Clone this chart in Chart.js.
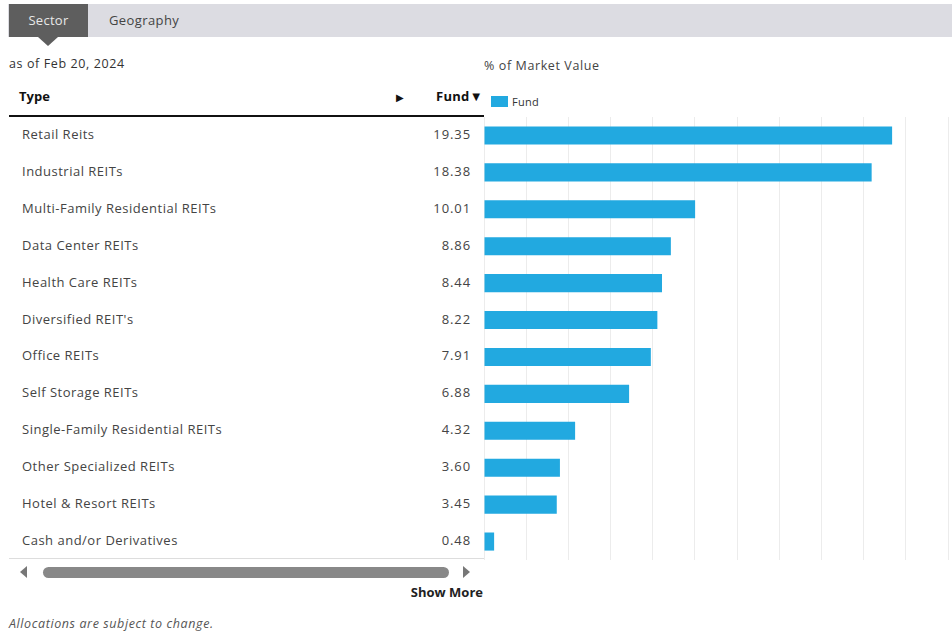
<!DOCTYPE html>
<html>
<head>
<meta charset="utf-8">
<script src="https://cdn.jsdelivr.net/npm/chart.js@4"></script>
<style>
  html,body{margin:0;padding:0;background:#fff;}
  body{width:952px;height:633px;position:relative;overflow:hidden;font-family:"Open Sans","Noto Sans",sans-serif;color:#333;}
  .tabbar{position:absolute;left:8px;top:4px;width:944px;height:33px;background:#dcdce2;}
  .tab-active{position:absolute;left:9px;top:4px;width:79px;height:33px;background:#5e5e5e;color:#e8e8e8;font-size:13px;line-height:33px;text-align:center;letter-spacing:0.3px;}
  .pointer{position:absolute;left:38px;top:37px;width:0;height:0;border-left:10px solid transparent;border-right:10px solid transparent;border-top:9px solid #5e5e5e;}
  .tab2{position:absolute;left:109px;top:4px;font-size:13px;line-height:33px;color:#444;letter-spacing:0.4px;}
  .asof{position:absolute;left:9px;top:55px;font-size:12.5px;color:#333;letter-spacing:0.6px;}
  .pmv{position:absolute;left:484px;top:57px;font-size:12.5px;color:#444;letter-spacing:0.6px;}
  .hdr-type{position:absolute;left:19px;top:87px;font-size:13px;font-weight:bold;color:#111;}
  .hdr-arrow{position:absolute;left:396px;top:90px;font-size:10px;color:#111;}
  .hdr-fund{position:absolute;left:436px;top:87px;font-size:13px;font-weight:bold;color:#111;letter-spacing:0.3px;}
  .hdr-line{position:absolute;left:9px;top:115px;width:475px;height:2px;background:#111;}
  .tbl-right{position:absolute;left:484px;top:117px;width:1px;height:443px;background:#ddd;}
  .tbl-bottom{position:absolute;left:9px;top:558px;width:475px;height:1px;background:#ddd;}
  .row{position:absolute;left:0;width:484px;height:37px;font-size:13px;color:#444;letter-spacing:0.5px;}
  .row .lbl{position:absolute;left:22px;top:8px;}
  .row .val{position:absolute;right:13px;top:8px;letter-spacing:0.9px;}
  .legend{position:absolute;left:491px;top:94px;font-size:11px;color:#333;letter-spacing:0.3px;}
  .legend .box{display:inline-block;width:17px;height:11px;background:#22a9e0;vertical-align:-1px;margin-right:4px;}
  .sb-left{position:absolute;left:20px;top:566px;width:0;height:0;border-top:6px solid transparent;border-bottom:6px solid transparent;border-right:7px solid #777;}
  .sb-right{position:absolute;left:463px;top:566px;width:0;height:0;border-top:6px solid transparent;border-bottom:6px solid transparent;border-left:7px solid #777;}
  .sb-thumb{position:absolute;left:43px;top:567px;width:406px;height:11px;border-radius:6px;background:#888;}
  .showmore{position:absolute;right:469px;top:583px;font-size:13px;font-weight:bold;color:#222;}
  .note{position:absolute;left:9px;top:615px;font-size:12.5px;font-style:italic;color:#555;letter-spacing:0.6px;}
  #wrap{position:absolute;left:484px;top:117px;width:468px;height:443px;}
</style>
</head>
<body>
<div class="tabbar"></div>
<div class="tab-active">Sector</div>
<div class="pointer"></div>
<div class="tab2">Geography</div>
<div class="asof">as of Feb 20, 2024</div>
<div class="pmv">% of Market Value</div>
<div class="hdr-type">Type</div>
<div class="hdr-arrow">&#9654;</div>
<div class="hdr-fund">Fund&#9660;</div>
<div class="hdr-line"></div>
<div id="rows"></div>
<div class="tbl-right"></div>
<div class="tbl-bottom"></div>
<div class="legend" id="legend"></div>
<div class="sb-left"></div>
<div class="sb-thumb"></div>
<div class="sb-right"></div>
<div class="showmore">Show More</div>
<div class="note">Allocations are subject to change.</div>
<div id="wrap"><canvas id="c"></canvas></div>
<script>
const categories = [
  "Retail Reits",
  "Industrial REITs",
  "Multi-Family Residential REITs",
  "Data Center REITs",
  "Health Care REITs",
  "Diversified REIT's",
  "Office REITs",
  "Self Storage REITs",
  "Single-Family Residential REITs",
  "Other Specialized REITs",
  "Hotel & Resort REITs",
  "Cash and/or Derivatives"
];
const fundValues = [19.35, 18.38, 10.01, 8.86, 8.44, 8.22, 7.91, 6.88, 4.32, 3.60, 3.45, 0.48];
const seriesName = "Fund";

const rowsEl = document.getElementById('rows');
categories.forEach((c, i) => {
  const r = document.createElement('div');
  r.className = 'row';
  r.style.top = (117 + i * 36.9) + 'px';
  const l = document.createElement('span'); l.className = 'lbl'; l.textContent = c;
  const v = document.createElement('span'); v.className = 'val'; v.textContent = fundValues[i].toFixed(2);
  r.appendChild(l); r.appendChild(v);
  rowsEl.appendChild(r);
});
document.getElementById('legend').innerHTML = '<span class="box"></span>' + seriesName;

new Chart(document.getElementById('c'), {
  type: 'bar',
  data: {
    labels: categories,
    datasets: [{
      label: seriesName,
      data: fundValues,
      backgroundColor: '#22a9e0',
      borderWidth: 0,
      barPercentage: 0.49,
      categoryPercentage: 1.0
    }]
  },
  options: {
    indexAxis: 'y',
    responsive: true,
    maintainAspectRatio: false,
    animation: false,
    layout: { padding: { left: 0, right: 4, top: 0, bottom: 0 } },
    plugins: { legend: { display: false }, tooltip: { enabled: false } },
    scales: {
      x: {
        min: 0, max: 22,
        ticks: { display: false, stepSize: 2 },
        grid: { color: '#ececec', drawTicks: false, lineWidth: 1 },
        border: { display: false }
      },
      y: {
        display: false,
        grid: { display: false }
      }
    }
  }
});
</script>
</body>
</html>
